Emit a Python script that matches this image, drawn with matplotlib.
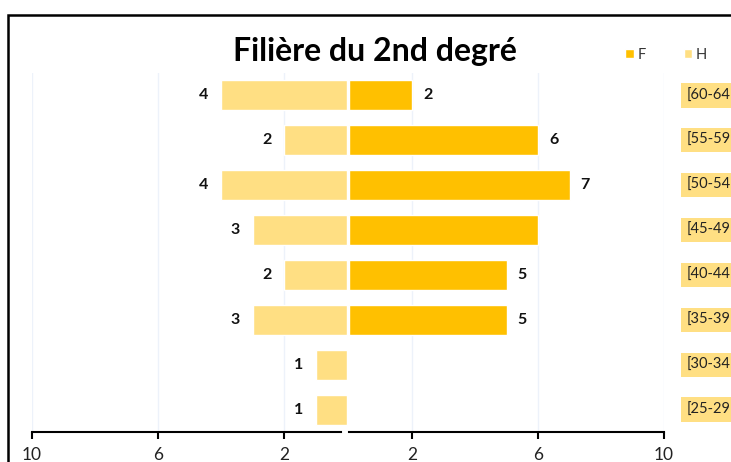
import matplotlib
matplotlib.use("Agg")
import matplotlib.pyplot as plt
from matplotlib.patches import Rectangle

# ---------------------------------------------------------------------------
# DATA (bottom to top)
# ---------------------------------------------------------------------------
categories = ["[25-29", "[30-34", "[35-39", "[40-44", "[45-49", "[50-54", "[55-59", "[60-64"]
values_f = [0, 0, 5, 5, 6, 7, 6, 2]
values_h = [1, 1, 3, 2, 3, 4, 2, 4]
labels_f = ["", "", "5", "5", "", "7", "6", "2"]
labels_h = ["1", "1", "3", "2", "3", "4", "2", "4"]
tick_values = [2, 6, 10]
title = "Filière du 2nd degré"

COLOR_F = "#FFC000"
COLOR_H = "#FFDF83"
GRID = "#EDF2FA"
FONT = ["Lato", "DejaVu Sans"]

W, H = 731, 462
fig = plt.figure(figsize=(W / 100, H / 100), dpi=100)
plt.rcParams["font.family"] = FONT

bottom = (H - 432) / H
height = (432 - 73) / H
ax_l = fig.add_axes([32 / W, bottom, (347 - 32) / W, height])
ax_r = fig.add_axes([349 / W, bottom, (664 - 349) / W, height])

ypos = list(range(len(categories)))

bars_h = ax_l.barh(ypos, values_h, height=0.67, color=COLOR_H, edgecolor="white", linewidth=1)
bars_f = ax_r.barh(ypos, values_f, height=0.67, color=COLOR_F, edgecolor="white", linewidth=1)

for y, v, lab in zip(ypos, values_h, labels_h):
    if lab:
        ax_l.annotate(lab, (v, y), xytext=(-9, 0), textcoords="offset points",
                      ha="right", va="center", fontsize=11.5, fontweight="bold", color="#111111")
for y, v, lab in zip(ypos, values_f, labels_f):
    if lab:
        ax_r.annotate(lab, (v, y), xytext=(8, 0), textcoords="offset points",
                      ha="left", va="center", fontsize=11.5, fontweight="bold", color="#111111")

for ax in (ax_l, ax_r):
    ax.set_ylim(-0.5, len(categories) - 0.5)
    ax.set_yticks([])
    ax.set_xticks(tick_values)
    ax.set_xticklabels([str(t) for t in tick_values])
    ax.tick_params(axis="x", direction="out", length=5, width=1.5, pad=6,
                   labelsize=12.5, colors="black", labelcolor="#222222")
    ax.xaxis.grid(True, color=GRID, linewidth=1)
    ax.set_axisbelow(True)
    for s in ("top", "left", "right"):
        ax.spines[s].set_visible(False)
    ax.spines["bottom"].set_linewidth(1.5)
    ax.set_facecolor("none")

ax_l.set_xlim(10, 0)
ax_r.set_xlim(0, 10)
ax_l.spines["bottom"].set_bounds(10, 0.2)

# category labels on the right, with yellow background
for y, cat in zip(ypos, categories):
    ax_r.annotate(cat, (1.0, y), xycoords=("axes fraction", "data"), xytext=(16, 0),
                  textcoords="offset points", ha="left", va="center", fontsize=10.5,
                  color="#222222",
                  bbox=dict(boxstyle="square,pad=0.35", facecolor="#FFDF83", edgecolor="none"))

fig.text(375 / W, 1 - 52 / H, title, ha="center", va="center", fontsize=23, fontweight="bold")

fig.legend([bars_f, bars_h], ["F", "H"], ncol=2, frameon=False,
           loc="center left", bbox_to_anchor=(612 / W, 1 - 55 / H),
           handlelength=0.6, handleheight=0.6, handletextpad=0.25, columnspacing=2.6,
           fontsize=10.5, labelcolor="#333333")

# chart frame (cut off on the right and at the bottom)
fig.patches.append(Rectangle((8 / W, -0.5), 2, 0.5 + (H - 15) / H, transform=fig.transFigure,
                             fill=False, edgecolor="black", linewidth=1.8, zorder=10))

fig.savefig("out.png", dpi=100)
